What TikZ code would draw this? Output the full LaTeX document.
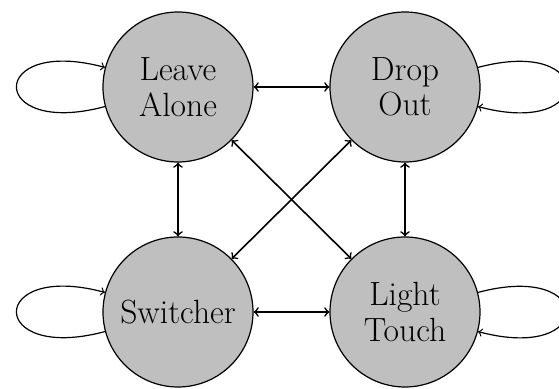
\documentclass[tikz,border=0pt]{standalone}
\begin{document}
\begin{tikzpicture}[x=0.5pt,y=-0.5pt,
  state/.style={circle,draw,semithick,fill=lightgray,minimum size=75pt,inner sep=0pt,align=center,font=\fontsize{16.8}{17.8}\selectfont},
  link/.style={<->,thick},
  selfloop/.style={->,semithick,looseness=8}]
\useasboundingbox (0,0) rectangle (559,389);
\node[state] (la) at (178,87) {Leave\\Alone};
\node[state] (do) at (405,87) {Drop\\Out};
\node[state] (sw) at (178,312) {Switcher};
\node[state] (lt) at (405,312) {Light\\Touch};
\draw[link] (la) -- (do);
\draw[link] (la) -- (sw);
\draw[link] (do) -- (lt);
\draw[link] (sw) -- (lt);
\draw[link] (la) -- (lt);
\draw[link] (do) -- (sw);
\draw[selfloop] (la) to[out=195,in=165] (la);
\draw[selfloop] (sw) to[out=195,in=165] (sw);
\draw[selfloop] (do) to[out=15,in=-15] (do);
\draw[selfloop] (lt) to[out=15,in=-15] (lt);
\end{tikzpicture}
\end{document}
